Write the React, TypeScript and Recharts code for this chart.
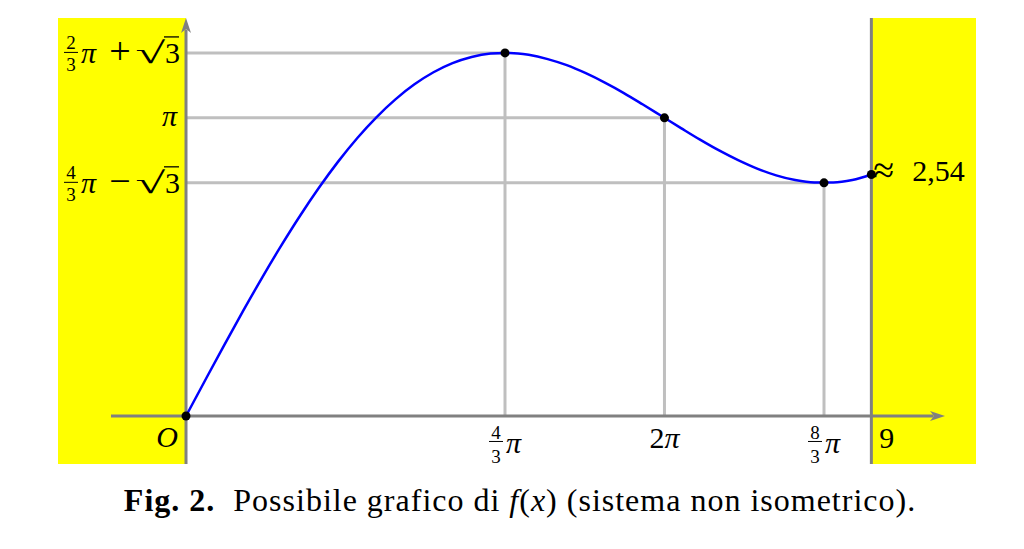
import React from "react";
import {
  ComposedChart,
  Line,
  Scatter,
  XAxis,
  YAxis,
  ReferenceArea,
  ReferenceLine,
  ReferenceDot,
} from "recharts";

// curve
const curveX = [
  0, 0.25, 0.5, 0.75, 1, 1.25, 1.5, 1.75, 2, 2.25, 2.5, 2.75, 3, 3.25, 3.5, 3.75, 4, 4.189,
  4.25, 4.5, 4.75, 5, 5.25, 5.5, 5.75, 6, 6.25, 6.5, 6.75, 7, 7.25, 7.5, 7.75, 8, 8.25, 8.5,
  8.75, 9,
];
const curveY = [
  0, 0.374, 0.745, 1.108, 1.459, 1.795, 2.113, 2.41, 2.683, 2.93, 3.148, 3.337, 3.495, 3.622,
  3.718, 3.783, 3.819, 3.826, 3.826, 3.806, 3.761, 3.697, 3.612, 3.513, 3.403, 3.282, 3.158,
  3.034, 2.912, 2.798, 2.696, 2.607, 2.536, 2.486, 2.461, 2.46, 2.486, 2.545,
];

// marked points: O, max, 2π, min, x = 9
const keyX = [0, 4.189, 6.283, 8.378, 9];
const keyY = [0, 3.826, 3.142, 2.457, 2.545];

const xDomain = [-1.681, 10.374];
const yDomain = [-0.506, 4.194];
const xAxisSpan = [-0.985, 9.967];
const domainEnd = 9;

const yTicks = [3.826, 3.142, 2.457];
const yTickNum = ["2", "", "4"];
const yTickDen = ["3", "", "3"];
const yTickOp = ["+", "", "\u2212"];

const xTicks = [4.189, 6.283, 8.378];
const xTickNum = ["4", "", "8"];
const xTickDen = ["3", "", "3"];
const xTickText = ["\u03c0", "2\u03c0", "\u03c0"];

const curve = curveX.map((x, i) => ({ x, y: curveY[i] }));
const keyPoints = keyX.map((x, i) => ({ x, y: keyY[i] }));

const FONT = "'Liberation Serif', 'Times New Roman', serif";
const AXIS = "#808080";
const GUIDE = "#bfbfbf";

const yLabel = (i: number) => (p: any) => {
  const { cx, cy } = p;
  if (!yTickNum[i]) {
    return (
      <text x={cx - 9} y={cy + 8} textAnchor="end" fontSize={30} fontStyle="italic" fontFamily={FONT}>
        {"\u03c0"}
      </text>
    );
  }
  return (
    <g fontFamily={FONT} fill="#000">
      <text x={cx - 115} y={cy - 4} textAnchor="middle" fontSize={19}>{yTickNum[i]}</text>
      <line x1={cx - 122} x2={cx - 108} y1={cy - 0.5} y2={cy - 0.5} stroke="#000" strokeWidth={1} />
      <text x={cx - 115} y={cy + 18} textAnchor="middle" fontSize={19}>{yTickDen[i]}</text>
      <text x={cx - 105} y={cy + 10} fontSize={30} fontStyle="italic">{"\u03c0"}</text>
      <text x={cx - 66} y={cy + 11} textAnchor="middle" fontSize={38}>{yTickOp[i]}</text>
      <text
        x={0}
        y={0}
        fontSize={30}
        textAnchor="end"
        transform={`translate(${cx - 21},${cy + 10}) scale(1.8,1)`}
      >
        {"\u221a"}
      </text>
      <line x1={cx - 22} x2={cx - 7} y1={cy - 16} y2={cy - 16} stroke="#000" strokeWidth={1.3} />
      <text x={cx - 21} y={cy + 10} fontSize={30}>3</text>
    </g>
  );
};

const xLabel = (i: number) => (p: any) => {
  const { cx, cy } = p;
  if (!xTickNum[i]) {
    return (
      <text x={cx} y={cy + 32} textAnchor="middle" fontSize={30} fontFamily={FONT}>
        <tspan>2</tspan>
        <tspan fontStyle="italic">{"\u03c0"}</tspan>
      </text>
    );
  }
  return (
    <g fontFamily={FONT} fill="#000">
      <text x={cx - 9} y={cy + 23} textAnchor="middle" fontSize={19}>{xTickNum[i]}</text>
      <line x1={cx - 16} x2={cx - 2} y1={cy + 25.5} y2={cy + 25.5} stroke="#000" strokeWidth={1} />
      <text x={cx - 9} y={cy + 47} textAnchor="middle" fontSize={19}>{xTickDen[i]}</text>
      <text x={cx + 1} y={cy + 37} fontSize={30} fontStyle="italic">{xTickText[i]}</text>
    </g>
  );
};

const nineLabel = (p: any) => (
  <text x={p.cx + 8} y={p.cy + 32} fontSize={30} fontFamily={FONT}>9</text>
);

const originLabel = (p: any) => (
  <text x={p.cx - 8} y={p.cy + 31} textAnchor="end" fontSize={30} fontStyle="italic" fontFamily={FONT}>O</text>
);

const endLabel = (p: any) => (
  <g fontFamily={FONT}>
    <text x={p.cx + 2} y={p.cy + 9} fontSize={38}>{"\u2248"}</text>
    <text x={p.cx + 41} y={p.cy + 7} fontSize={30}>2,54</text>
  </g>
);

const arrowRight = (p: any) => (
  <path
    d={`M${p.cx},${p.cy} L${p.cx - 15},${p.cy - 5} L${p.cx - 11},${p.cy} L${p.cx - 15},${p.cy + 5} Z`}
    fill={AXIS}
  />
);

const arrowUp = (p: any) => (
  <path
    d={`M${p.cx},${p.cy} L${p.cx - 5},${p.cy + 15} L${p.cx},${p.cy + 11} L${p.cx + 5},${p.cy + 15} Z`}
    fill={AXIS}
  />
);

const bigDot = (p: any) => <circle cx={p.cx} cy={p.cy} r={4.5} fill="#000" />;

export default function App() {
  return (
    <div style={{ width: 1008, height: 533 }}>
      <ComposedChart
        width={1008}
        height={460}
        margin={{ top: 10, right: 40, bottom: 4, left: 50 }}
      >
        <XAxis dataKey="x" type="number" domain={xDomain} allowDataOverflow hide />
        <YAxis dataKey="y" type="number" domain={yDomain} allowDataOverflow hide />

        <ReferenceArea x1={xDomain[0]} x2={0} y1={yDomain[0]} y2={yDomain[1]} fill="#ffff00" fillOpacity={1} stroke="none" />
        <ReferenceArea x1={domainEnd} x2={xDomain[1]} y1={yDomain[0]} y2={yDomain[1]} fill="#ffff00" fillOpacity={1} stroke="none" />

        {yTicks.map((v, i) => (
          <ReferenceLine
            key={`h${i}`}
            segment={[{ x: 0, y: v }, { x: keyX[i + 1], y: v }]}
            stroke={GUIDE}
            strokeWidth={3}
          />
        ))}
        {xTicks.map((v, i) => (
          <ReferenceLine
            key={`v${i}`}
            segment={[{ x: v, y: 0 }, { x: v, y: keyY[i + 1] }]}
            stroke={GUIDE}
            strokeWidth={3}
          />
        ))}

        <ReferenceLine segment={[{ x: xAxisSpan[0], y: 0 }, { x: xAxisSpan[1] - 0.15, y: 0 }]} stroke={AXIS} strokeWidth={3} />
        <ReferenceLine segment={[{ x: 0, y: yDomain[0] }, { x: 0, y: yDomain[1] - 0.12 }]} stroke={AXIS} strokeWidth={3} />
        <ReferenceLine x={domainEnd} stroke={AXIS} strokeWidth={3} />
        <ReferenceDot x={xAxisSpan[1]} y={0} r={0} shape={arrowRight} />
        <ReferenceDot x={0} y={yDomain[1]} r={0} shape={arrowUp} />

        <Line
          data={curve}
          dataKey="y"
          type="monotone"
          stroke="#0000ff"
          strokeWidth={2.5}
          dot={false}
          isAnimationActive={false}
        />
        <Scatter data={keyPoints} dataKey="y" shape={bigDot} isAnimationActive={false} />

        {yTicks.map((v, i) => (
          <ReferenceDot key={`yl${i}`} x={0} y={v} r={0} shape={yLabel(i)} />
        ))}
        {xTicks.map((v, i) => (
          <ReferenceDot key={`xl${i}`} x={v} y={0} r={0} shape={xLabel(i)} />
        ))}
        <ReferenceDot x={domainEnd} y={0} r={0} shape={nineLabel} />
        <ReferenceDot x={0} y={0} r={0} shape={originLabel} />
        <ReferenceDot x={keyX[4]} y={keyY[4]} r={0} shape={endLabel} />
      </ComposedChart>
      <svg width={1008} height={73} style={{ display: "block" }}>
        <text x={512} y={43} textAnchor="middle" fontSize={32} letterSpacing={1} fontFamily={FONT} fill="#000">
          <tspan fontWeight="bold">Fig. 2.</tspan>
          <tspan>{"\u00a0 Possibile grafico di "}</tspan>
          <tspan fontStyle="italic">f</tspan>
          <tspan>(</tspan>
          <tspan fontStyle="italic">x</tspan>
          <tspan>) (sistema non isometrico).</tspan>
        </text>
      </svg>
    </div>
  );
}
